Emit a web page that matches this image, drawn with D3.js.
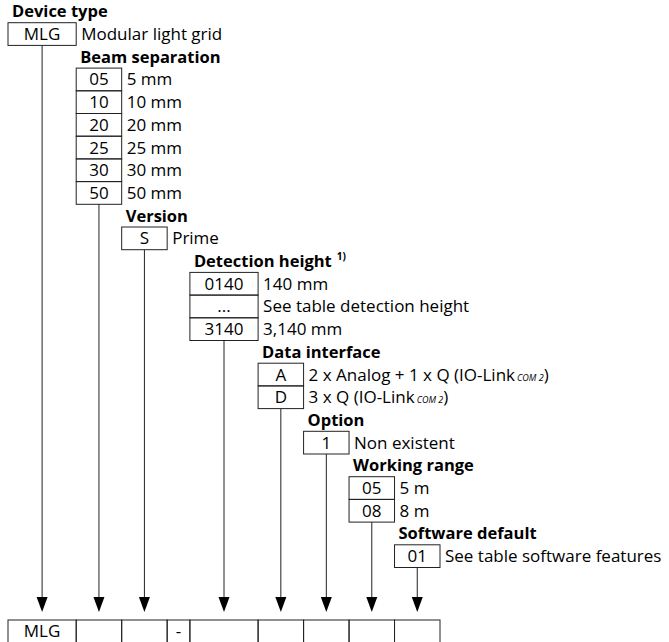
<!DOCTYPE html>
<html>
<head>
<meta charset="utf-8">
<script src="https://cdn.jsdelivr.net/npm/d3@7"></script>
<style>
  body { margin: 0; background: #fff; }
  text { font-family: 'Open Sans', sans-serif; fill: #000; }
</style>
</head>
<body>
<div id="chart"></div>
<script>
// type code fields, top to bottom
const fields = ['Device type', 'Beam separation', 'Version', 'Detection height', 'Data interface', 'Option', 'Working range', 'Software default']

const deviceCodes = ['MLG']
const deviceText = ['Modular light grid']
const beamCodes = ['05', '10', '20', '25', '30', '50']
const beamText = ['5 mm', '10 mm', '20 mm', '25 mm', '30 mm', '50 mm']
const versionCodes = ['S']
const versionText = ['Prime']
const heightCodes = ['0140', '...', '3140']
const heightText = ['140 mm', 'See table detection height', '3,140 mm']
const interfaceCodes = ['A', 'D']
const interfaceText = ['2 x Analog + 1 x Q (IO-Link', '3 x Q (IO-Link']
const optionCodes = ['1']
const optionText = ['Non existent']
const rangeCodes = ['05', '08']
const rangeText = ['5 m', '8 m']
const softwareCodes = ['01']
const softwareText = ['See table software features']

// the type code row at the bottom
const typeCode = ['MLG', '', '', '-', '', '', '', '', '']

const codes = [deviceCodes, beamCodes, versionCodes, heightCodes, interfaceCodes, optionCodes, rangeCodes, softwareCodes]
const texts = [deviceText, beamText, versionText, heightText, interfaceText, optionText, rangeText, softwareText]

const width = 669
const height = 642

const svg = d3
  .select('#chart')
  .append('svg')
  .attr('width', width)
  .attr('height', height)

// layout: cell widths of the type code in slots, field -> cell
const cellSlots = [3, 2, 2, 1, 3, 2, 2, 2, 2]
const fieldCell = [0, 1, 2, 4, 5, 6, 7, 8]
const edges = [0].concat(Array.from(d3.cumsum(cellSlots)))

const xScale = d3.scaleLinear().domain([0, d3.sum(cellSlots)]).range([8, 440])
const yScale = d3.scaleLinear().domain([0, 1]).range([0, 22.7])

const cellLeft = i => xScale(edges[i])
const cellRight = i => xScale(edges[i + 1])
const cellMid = i => (cellLeft(i) + cellRight(i)) / 2

const arrowTop = 597
const arrowTip = 612
const rowTop = 620
const baseline = 17.3

const stroke = '#222'

let row = 0
fields.forEach((field, f) => {
  const c = fieldCell[f]
  const g = svg.append('g').attr('class', 'field')

  // field name
  const label = g
    .append('text')
    .attr('x', cellLeft(c) + 4)
    .attr('y', yScale(row) + baseline)
    .style('font-weight', 700)
    .style('font-size', '16.5px')
    .text(field)
  if (field === 'Detection height') {
    label
      .append('tspan')
      .attr('dx', 5)
      .attr('dy', -7)
      .style('font-size', '10px')
      .text('1)')
  }

  const rows = codes[f].map((code, i) => ({ code, desc: texts[f][i], r: row + 1 + i }))

  g.selectAll('rect')
    .data(rows)
    .enter()
    .append('rect')
    .attr('x', cellLeft(c))
    .attr('y', d => yScale(d.r))
    .attr('width', cellRight(c) - cellLeft(c))
    .attr('height', yScale(1))
    .attr('fill', 'none')
    .attr('stroke', stroke)

  g.selectAll('.code')
    .data(rows)
    .enter()
    .append('text')
    .attr('class', 'code')
    .attr('x', cellMid(c))
    .attr('y', d => yScale(d.r) + baseline)
    .attr('text-anchor', 'middle')
    .style('font-size', '17px')
    .text(d => d.code)

  const desc = g
    .selectAll('.desc')
    .data(rows)
    .enter()
    .append('text')
    .attr('class', 'desc')
    .attr('x', cellRight(c) + 5)
    .attr('y', d => yScale(d.r) + baseline)
    .style('font-size', '17px')
    .text(d => d.desc)

  if (field === 'Data interface') {
    desc
      .append('tspan')
      .attr('dx', 2)
      .style('font-size', '9px')
      .style('font-style', 'italic')
      .text('COM 2')
    desc.append('tspan').text(')')
  }

  const bottom = yScale(row + 1 + rows.length)

  // stem and arrow head down to the type code
  g.append('line')
    .attr('x1', cellMid(c))
    .attr('x2', cellMid(c))
    .attr('y1', bottom)
    .attr('y2', arrowTop)
    .attr('stroke', stroke)

  g.append('path')
    .attr('d', `M${cellMid(c) - 5.5},${arrowTop}L${cellMid(c) + 5.5},${arrowTop}L${cellMid(c)},${arrowTip}Z`)
    .attr('fill', '#000')

  row += rows.length + 1
})

// the type code row
const codeRow = svg.append('g').attr('class', 'type-code')

codeRow
  .selectAll('rect')
  .data(typeCode)
  .enter()
  .append('rect')
  .attr('x', (d, i) => cellLeft(i))
  .attr('y', rowTop)
  .attr('width', (d, i) => cellRight(i) - cellLeft(i))
  .attr('height', 24)
  .attr('fill', 'none')
  .attr('stroke', stroke)

codeRow
  .selectAll('text')
  .data(typeCode)
  .enter()
  .append('text')
  .attr('x', (d, i) => cellMid(i))
  .attr('y', rowTop + baseline)
  .attr('text-anchor', 'middle')
  .style('font-size', '17px')
  .text(d => d)
</script>
</body>
</html>
